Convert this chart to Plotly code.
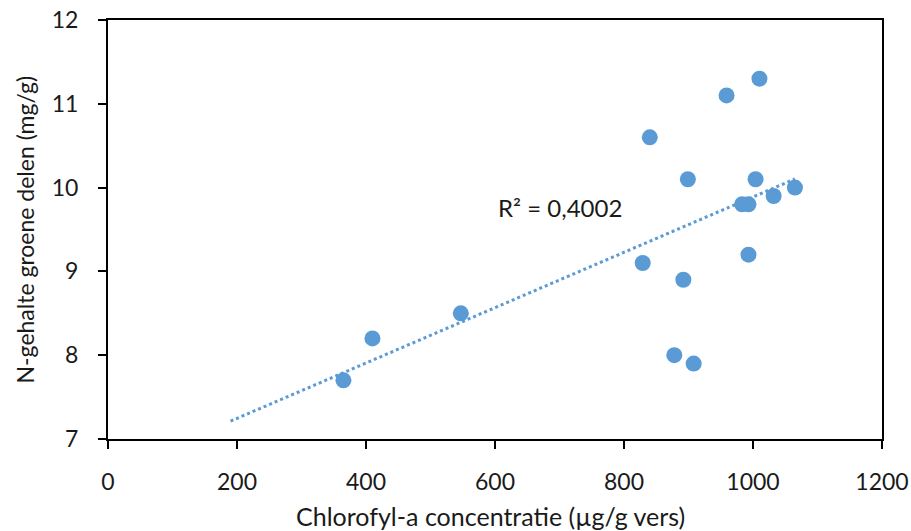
import numpy as np
import plotly.graph_objects as go

chlorofyl = [365, 410, 547, 840, 829, 899, 892, 878, 908, 959, 1010, 1004, 983, 993, 993, 1032, 1065]
n_gehalte = [7.7, 8.2, 8.5, 10.6, 9.1, 10.1, 8.9, 8.0, 7.9, 11.1, 11.3, 10.1, 9.8, 9.8, 9.2, 9.9, 10.0]
x_ticks = [0, 200, 400, 600, 800, 1000, 1200]
y_ticks = [7, 8, 9, 10, 11, 12]
trend_start = 190
r2_label = "R² = 0,4002"
x_title = "Chlorofyl-a concentratie (µg/g vers)"
y_title = "N-gehalte groene delen (mg/g)"

slope, intercept = np.polyfit(chlorofyl, n_gehalte, 1)
tx = np.linspace(trend_start, max(chlorofyl), 50)
ty = slope * tx + intercept

font = "Lato, 'Open Sans', sans-serif"
txt = "#1a1a1a"
fig = go.Figure()
fig.add_trace(go.Scatter(x=tx, y=ty, mode="lines",
                         line=dict(color="#5B9BD5", width=3, dash="dot"),
                         hoverinfo="skip", showlegend=False))
fig.add_trace(go.Scatter(x=chlorofyl, y=n_gehalte, mode="markers",
                         marker=dict(color="#5B9BD5", size=16),
                         showlegend=False))
fig.add_annotation(x=700, y=9.76, text=r2_label, showarrow=False,
                   font=dict(family=font, size=24, color=txt))
fig.add_annotation(xref="paper", yref="paper", x=0.494, y=0, yshift=-77,
                   text=x_title, showarrow=False, xanchor="center", yanchor="middle",
                   font=dict(family=font, size=25, color=txt))
fig.add_annotation(xref="paper", yref="paper", x=0, y=0.5, xshift=-84,
                   text=y_title, showarrow=False, textangle=-90,
                   xanchor="center", yanchor="middle",
                   font=dict(family=font, size=23, color=txt))
fig.update_layout(
    width=911, height=531,
    margin=dict(l=108, r=29, t=20, b=92),
    plot_bgcolor="white", paper_bgcolor="white",
    font=dict(family=font, size=23, color=txt),
)
fig.update_xaxes(range=[0, 1200], tickvals=x_ticks, showgrid=False, zeroline=False,
                 showline=True, linecolor="black", linewidth=2, mirror=True,
                 ticks="outside", ticklen=8, tickcolor="black", tickwidth=2,
                 ticklabelstandoff=13, automargin=False)
fig.update_yaxes(range=[7, 12], tickvals=y_ticks, showgrid=False, zeroline=False,
                 showline=True, linecolor="black", linewidth=2, mirror=True,
                 ticks="outside", ticklen=8, tickcolor="black", tickwidth=2,
                 ticklabelstandoff=15, automargin=False)
fig.write_html("out.html")
